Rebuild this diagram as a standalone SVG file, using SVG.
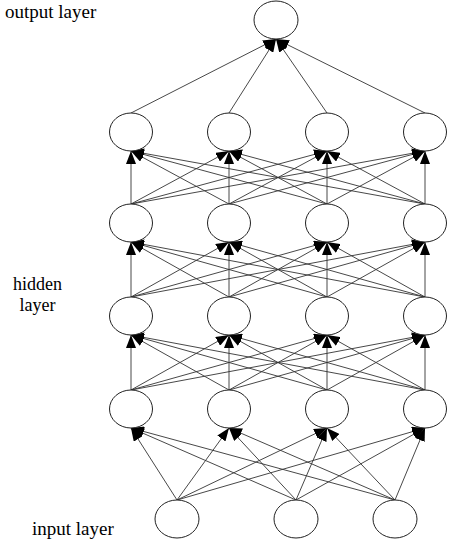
<svg xmlns="http://www.w3.org/2000/svg" width="452" height="544" viewBox="0 0 452 544">
<style>
.n{fill:#fff;stroke:#222;stroke-width:1}
.e{stroke:#333;stroke-width:0.9;fill:none;marker-end:url(#ah)}
.t{font-family:"Liberation Serif","Times New Roman","DejaVu Serif",serif;font-size:19px;fill:#000}
</style>
<defs>
<marker id="ah" markerUnits="userSpaceOnUse" markerWidth="13" markerHeight="10" refX="13" refY="5" orient="auto">
<path d="M0,0 L13,5 L0,10 Z" fill="#000"/>
</marker>
</defs>
<rect width="452" height="544" fill="#fff"/>
<g id="connectors">
<line class="e" x1="177" y1="500" x2="131" y2="428"/>
<line class="e" x1="177" y1="500" x2="229" y2="428"/>
<line class="e" x1="177" y1="500" x2="327" y2="428"/>
<line class="e" x1="177" y1="500" x2="425" y2="428"/>
<line class="e" x1="296" y1="500" x2="131" y2="428"/>
<line class="e" x1="296" y1="500" x2="229" y2="428"/>
<line class="e" x1="296" y1="500" x2="327" y2="428"/>
<line class="e" x1="296" y1="500" x2="425" y2="428"/>
<line class="e" x1="395" y1="500" x2="131" y2="428"/>
<line class="e" x1="395" y1="500" x2="229" y2="428"/>
<line class="e" x1="395" y1="500" x2="327" y2="428"/>
<line class="e" x1="395" y1="500" x2="425" y2="428"/>

<line class="e" x1="131" y1="390" x2="131" y2="335"/>
<line class="e" x1="131" y1="390" x2="229" y2="335"/>
<line class="e" x1="131" y1="390" x2="327" y2="335"/>
<line class="e" x1="131" y1="390" x2="425" y2="335"/>
<line class="e" x1="229" y1="390" x2="131" y2="335"/>
<line class="e" x1="229" y1="390" x2="229" y2="335"/>
<line class="e" x1="229" y1="390" x2="327" y2="335"/>
<line class="e" x1="229" y1="390" x2="425" y2="335"/>
<line class="e" x1="327" y1="390" x2="131" y2="335"/>
<line class="e" x1="327" y1="390" x2="229" y2="335"/>
<line class="e" x1="327" y1="390" x2="327" y2="335"/>
<line class="e" x1="327" y1="390" x2="425" y2="335"/>
<line class="e" x1="425" y1="390" x2="131" y2="335"/>
<line class="e" x1="425" y1="390" x2="229" y2="335"/>
<line class="e" x1="425" y1="390" x2="327" y2="335"/>
<line class="e" x1="425" y1="390" x2="425" y2="335"/>

<line class="e" x1="131" y1="297" x2="131" y2="242"/>
<line class="e" x1="131" y1="297" x2="229" y2="242"/>
<line class="e" x1="131" y1="297" x2="327" y2="242"/>
<line class="e" x1="131" y1="297" x2="425" y2="242"/>
<line class="e" x1="229" y1="297" x2="131" y2="242"/>
<line class="e" x1="229" y1="297" x2="229" y2="242"/>
<line class="e" x1="229" y1="297" x2="327" y2="242"/>
<line class="e" x1="229" y1="297" x2="425" y2="242"/>
<line class="e" x1="327" y1="297" x2="131" y2="242"/>
<line class="e" x1="327" y1="297" x2="229" y2="242"/>
<line class="e" x1="327" y1="297" x2="327" y2="242"/>
<line class="e" x1="327" y1="297" x2="425" y2="242"/>
<line class="e" x1="425" y1="297" x2="131" y2="242"/>
<line class="e" x1="425" y1="297" x2="229" y2="242"/>
<line class="e" x1="425" y1="297" x2="327" y2="242"/>
<line class="e" x1="425" y1="297" x2="425" y2="242"/>

<line class="e" x1="131" y1="204" x2="131" y2="151"/>
<line class="e" x1="131" y1="204" x2="229" y2="151"/>
<line class="e" x1="131" y1="204" x2="327" y2="151"/>
<line class="e" x1="131" y1="204" x2="425" y2="151"/>
<line class="e" x1="229" y1="204" x2="131" y2="151"/>
<line class="e" x1="229" y1="204" x2="229" y2="151"/>
<line class="e" x1="229" y1="204" x2="327" y2="151"/>
<line class="e" x1="229" y1="204" x2="425" y2="151"/>
<line class="e" x1="327" y1="204" x2="131" y2="151"/>
<line class="e" x1="327" y1="204" x2="229" y2="151"/>
<line class="e" x1="327" y1="204" x2="327" y2="151"/>
<line class="e" x1="327" y1="204" x2="425" y2="151"/>
<line class="e" x1="425" y1="204" x2="131" y2="151"/>
<line class="e" x1="425" y1="204" x2="229" y2="151"/>
<line class="e" x1="425" y1="204" x2="327" y2="151"/>
<line class="e" x1="425" y1="204" x2="425" y2="151"/>

<line class="e" x1="131" y1="113" x2="276" y2="39"/>
<line class="e" x1="229" y1="113" x2="276" y2="39"/>
<line class="e" x1="327" y1="113" x2="276" y2="39"/>
<line class="e" x1="425" y1="113" x2="276" y2="39"/>
</g>
<g id="out"><ellipse class="n" cx="276" cy="20" rx="22" ry="19"/></g>
<g id="h4a"><ellipse class="n" cx="131" cy="132" rx="21.5" ry="19"/></g>
<g id="h4b"><ellipse class="n" cx="229" cy="132" rx="21.5" ry="19"/></g>
<g id="h4c"><ellipse class="n" cx="327" cy="132" rx="21.5" ry="19"/></g>
<g id="h4d"><ellipse class="n" cx="425" cy="132" rx="21.5" ry="19"/></g>
<g id="h3a"><ellipse class="n" cx="131" cy="223" rx="21.5" ry="19"/></g>
<g id="h3b"><ellipse class="n" cx="229" cy="223" rx="21.5" ry="19"/></g>
<g id="h3c"><ellipse class="n" cx="327" cy="223" rx="21.5" ry="19"/></g>
<g id="h3d"><ellipse class="n" cx="425" cy="223" rx="21.5" ry="19"/></g>
<g id="h2a"><ellipse class="n" cx="131" cy="316" rx="21.5" ry="19"/></g>
<g id="h2b"><ellipse class="n" cx="229" cy="316" rx="21.5" ry="19"/></g>
<g id="h2c"><ellipse class="n" cx="327" cy="316" rx="21.5" ry="19"/></g>
<g id="h2d"><ellipse class="n" cx="425" cy="316" rx="21.5" ry="19"/></g>
<g id="h1a"><ellipse class="n" cx="131" cy="409" rx="21.5" ry="19"/></g>
<g id="h1b"><ellipse class="n" cx="229" cy="409" rx="21.5" ry="19"/></g>
<g id="h1c"><ellipse class="n" cx="327" cy="409" rx="21.5" ry="19"/></g>
<g id="h1d"><ellipse class="n" cx="425" cy="409" rx="21.5" ry="19"/></g>
<g id="in1"><ellipse class="n" cx="177" cy="519" rx="22" ry="19"/></g>
<g id="in2"><ellipse class="n" cx="296" cy="519" rx="22" ry="19"/></g>
<g id="in3"><ellipse class="n" cx="395" cy="519" rx="22" ry="19"/></g>
<g id="labels">
<text class="t" x="5" y="18">output layer</text>
<text class="t" x="37.5" y="290" text-anchor="middle" style="font-size:18px">hidden</text>
<text class="t" x="37.5" y="311" text-anchor="middle" style="font-size:18px">layer</text>
<text class="t" x="32" y="535">input layer</text>
</g>
</svg>
